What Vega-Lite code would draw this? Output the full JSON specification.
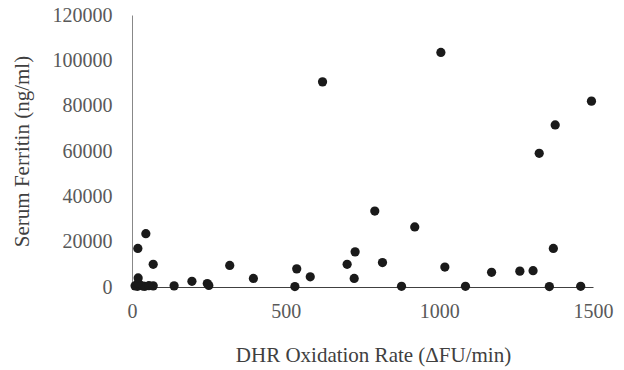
{
  "$schema": "https://vega.github.io/schema/vega-lite/v6.json",
  "autosize": {"type": "none"},
  "padding": {"left": 132, "top": 15, "right": 31, "bottom": 83},
  "width": 461,
  "height": 272,
  "background": "white",
  "data": {
    "values": [
      {"rate": 10, "ferritin": 500},
      {"rate": 18, "ferritin": 300},
      {"rate": 26, "ferritin": 800},
      {"rate": 35, "ferritin": 400},
      {"rate": 42, "ferritin": 300},
      {"rate": 55, "ferritin": 600},
      {"rate": 69, "ferritin": 500},
      {"rate": 20, "ferritin": 1800},
      {"rate": 20, "ferritin": 4000},
      {"rate": 19, "ferritin": 17000},
      {"rate": 45, "ferritin": 23500},
      {"rate": 69, "ferritin": 10000},
      {"rate": 137, "ferritin": 500},
      {"rate": 195, "ferritin": 2500},
      {"rate": 245, "ferritin": 1500},
      {"rate": 250, "ferritin": 700},
      {"rate": 318, "ferritin": 9500},
      {"rate": 395, "ferritin": 3800},
      {"rate": 530, "ferritin": 200},
      {"rate": 536, "ferritin": 8000},
      {"rate": 580, "ferritin": 4500},
      {"rate": 620, "ferritin": 90500},
      {"rate": 700, "ferritin": 10000},
      {"rate": 723, "ferritin": 3800},
      {"rate": 726, "ferritin": 15500},
      {"rate": 790, "ferritin": 33500},
      {"rate": 815, "ferritin": 10800},
      {"rate": 877, "ferritin": 300},
      {"rate": 920, "ferritin": 26500},
      {"rate": 1005, "ferritin": 103500},
      {"rate": 1018, "ferritin": 8800},
      {"rate": 1085, "ferritin": 300},
      {"rate": 1170, "ferritin": 6500},
      {"rate": 1262, "ferritin": 7000},
      {"rate": 1305, "ferritin": 7200},
      {"rate": 1325, "ferritin": 59000},
      {"rate": 1358, "ferritin": 200},
      {"rate": 1371, "ferritin": 17000},
      {"rate": 1377, "ferritin": 71500},
      {"rate": 1460, "ferritin": 300},
      {"rate": 1495, "ferritin": 82000}
    ]
  },
  "mark": {"type": "circle", "size": 85, "color": "#1a1a1a", "opacity": 1},
  "encoding": {
    "x": {
      "field": "rate",
      "type": "quantitative",
      "scale": {"domain": [0, 1500], "nice": false, "zero": true},
      "axis": {
        "title": "DHR Oxidation Rate (\u0394FU/min)",
        "values": [0, 500, 1000, 1500],
        "format": "d",
        "grid": false,
        "ticks": false,
        "labelFlush": false,
        "labelOverlap": false,
        "domainColor": "#404040",
        "domainWidth": 1,
        "labelFont": "Liberation Serif",
        "labelFontSize": 20,
        "labelColor": "#595959",
        "labelPadding": 14,
        "titleFont": "Liberation Serif",
        "titleFontSize": 21,
        "titleFontWeight": "normal",
        "titleColor": "#404040",
        "titleX": 241,
        "titleY": 68,
        "titleBaseline": "middle"
      }
    },
    "y": {
      "field": "ferritin",
      "type": "quantitative",
      "scale": {"domain": [0, 120000], "nice": false},
      "axis": {
        "title": "Serum Ferritin (ng/ml)",
        "values": [0, 20000, 40000, 60000, 80000, 100000, 120000],
        "format": "d",
        "grid": false,
        "ticks": false,
        "labelFlush": false,
        "labelOverlap": false,
        "domainColor": "#888888",
        "domainWidth": 1,
        "labelFont": "Liberation Serif",
        "labelFontSize": 20,
        "labelColor": "#595959",
        "labelPadding": 20,
        "titleFont": "Liberation Serif",
        "titleFontSize": 21,
        "titleFontWeight": "normal",
        "titleColor": "#404040",
        "titleAngle": -90,
        "titleX": -110,
        "titleY": 136,
        "titleAlign": "center",
        "titleBaseline": "middle"
      }
    }
  },
  "config": {"view": {"stroke": null}}
}
